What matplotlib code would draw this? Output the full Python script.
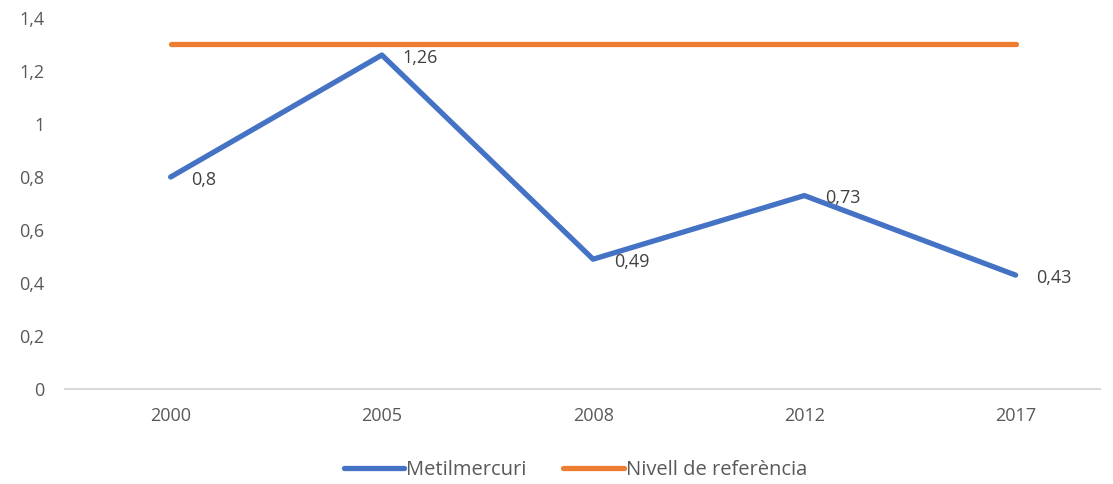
import matplotlib.pyplot as plt

plt.rcParams['font.family'] = ['Open Sans', 'DejaVu Sans']

years = ['2000', '2005', '2008', '2012', '2017']
metilmercuri = [0.8, 1.26, 0.49, 0.73, 0.43]
referencia = [1.3, 1.3, 1.3, 1.3, 1.3]
y_ticks = [0, 0.2, 0.4, 0.6, 0.8, 1, 1.2, 1.4]


def fmt(v):
    return ('%g' % v).replace('.', ',')


fig = plt.figure(figsize=(11.13, 4.84), dpi=100)
ax = fig.add_axes([0.0584, 0.196, 0.93, 0.767])

x = list(range(len(years)))
ax.plot(x, metilmercuri, color='#4472C4', lw=3.8, solid_capstyle='round',
        label='Metilmercuri')
ax.plot(x, referencia, color='#ED7D31', lw=3.8, solid_capstyle='round',
        label='Nivell de referència')

for xi, v in zip(x, metilmercuri):
    ax.annotate(fmt(v), (xi, v), xytext=(15, -2), textcoords='offset points',
                ha='left', va='center', fontsize=13, color='#404040')

ax.set_xlim(-0.5, 4.4)
ax.set_ylim(0, 1.4)
ax.set_xticks(x)
ax.set_xticklabels(years)
ax.set_yticks(y_ticks)
ax.set_yticklabels([fmt(t) for t in y_ticks])
ax.tick_params(length=0, labelsize=13, labelcolor='#595959')
ax.tick_params(axis='x', pad=13)
ax.tick_params(axis='y', pad=15)
for s in ['top', 'right', 'left']:
    ax.spines[s].set_visible(False)
ax.spines['bottom'].set_color('#D9D9D9')
ax.spines['bottom'].set_linewidth(1.5)

h, l = ax.get_legend_handles_labels()
leg = fig.legend(h, l, loc='center', bbox_to_anchor=(0.517, 0.028), ncol=2,
                 frameon=False, fontsize=14.5, handlelength=3.0, handletextpad=0.1,
                 columnspacing=1.8)
for t in leg.get_texts():
    t.set_color('#595959')

fig.savefig('out.png', dpi=100)
